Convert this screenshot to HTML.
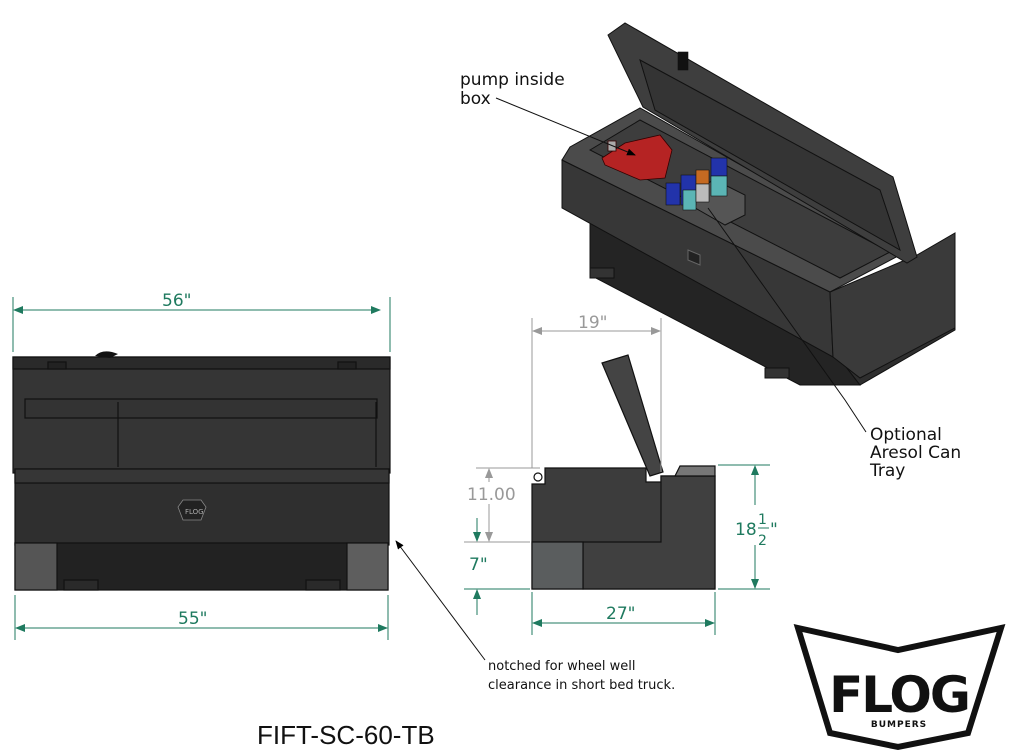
<!DOCTYPE html>
<html><head><meta charset="utf-8"><style>
html,body{margin:0;padding:0;background:#fff;}
svg{display:block;font-family:"DejaVu Sans","Liberation Sans",sans-serif;}
</style></head><body>
<svg width="1010" height="754" viewBox="0 0 1010 754" xmlns="http://www.w3.org/2000/svg">
<defs>
<marker id="ag" markerWidth="10" markerHeight="8" refX="9" refY="4" orient="auto" markerUnits="userSpaceOnUse"><path d="M0,0 L10,4 L0,8 z" fill="#1f7a5f"/></marker>
<marker id="ay" markerWidth="10" markerHeight="8" refX="9" refY="4" orient="auto" markerUnits="userSpaceOnUse"><path d="M0,0 L10,4 L0,8 z" fill="#999"/></marker>
<marker id="ab" markerWidth="9" markerHeight="7" refX="8" refY="3.5" orient="auto" markerUnits="userSpaceOnUse"><path d="M0,0 L9,3.5 L0,7 z" fill="#000"/></marker>
</defs>

<!-- ISO VIEW -->
<g stroke="#111" stroke-width="1">
<polygon points="590,215 833,350 860,385 800,385 590,275" fill="#242424"/>
<polygon points="833,350 955,300 955,330 860,385" fill="#2e2e2e"/>
<polygon points="562,160 830,292 833,357 562,208" fill="#373737"/>
<polygon points="830,292 917,255 955,233 955,328 860,378 833,357" fill="#3a3a3a"/>
<polygon points="562,160 570,147 640,108 900,255 830,292" fill="#4b4b4b"/>
<polygon points="590,150 640,120 890,252 840,278" fill="#3d3d3d"/>
<polygon points="608,35 625,23 893,177 917,257 907,263 643,107" fill="#3e3e3e"/>
<polygon points="640,60 880,190 900,250 655,110" fill="#343434"/>
<polygon points="690,190 715,180 745,195 745,215 725,225 690,205" fill="#555"/>
<rect x="590" y="268" width="24" height="10" fill="#333"/>
<rect x="765" y="368" width="24" height="10" fill="#333"/>
</g>
<g stroke="#300" stroke-width="0.8">
<path d="M602,158 L625,143 L660,135 L672,150 L665,178 L640,180 L605,165 z" fill="#b52323"/>
<rect x="608" y="141" width="8" height="10" fill="#aaa"/>
</g>
<g stroke="#111" stroke-width="0.6">
<rect x="666" y="183" width="14" height="22" fill="#2233aa"/><rect x="681" y="175" width="15" height="30" fill="#2233aa"/><rect x="683" y="190" width="13" height="20" fill="#5bb5b5"/>
<rect x="696" y="170" width="13" height="14" fill="#c56a22"/><rect x="696" y="184" width="13" height="18" fill="#bbb"/>
<rect x="711" y="158" width="16" height="18" fill="#2233aa"/><rect x="711" y="176" width="16" height="20" fill="#5bb5b5"/>
<rect x="678" y="52" width="10" height="18" fill="#111"/>
</g>
<path d="M688,250 l12,5 0,10 -12,-5z" fill="#222" stroke="#666"/>

<!-- labels iso -->
<text x="460" y="85" font-size="17" fill="#111">pump inside</text>
<text x="460" y="104" font-size="17" fill="#111">box</text>
<line x1="496" y1="98" x2="635" y2="155" stroke="#111" stroke-width="1" marker-end="url(#ab)"/>
<polyline points="708,208 845,400 866,432" fill="none" stroke="#111" stroke-width="1"/>
<text x="870" y="440" font-size="17" fill="#111">Optional</text>
<text x="870" y="458" font-size="17" fill="#111">Aresol Can</text>
<text x="870" y="476" font-size="17" fill="#111">Tray</text>

<!-- FRONT VIEW -->
<g stroke="#111" stroke-width="1.2">
<rect x="13" y="357" width="377" height="116" fill="#353535"/>
<rect x="13" y="357" width="377" height="12" fill="#2a2a2a"/>
<rect x="25" y="399" width="352" height="19" fill="#333"/>
<rect x="15" y="469" width="374" height="76" fill="#2f2f2f"/>
<rect x="15" y="469" width="374" height="14" fill="#363636"/>
<rect x="15" y="543" width="373" height="47" fill="#222"/>
<rect x="15" y="543" width="42" height="47" fill="#555"/>
<rect x="347" y="543" width="41" height="47" fill="#5e5e5e"/>
<rect x="64" y="580" width="34" height="10" fill="#2a2a2a"/>
<rect x="306" y="580" width="34" height="10" fill="#2a2a2a"/>
<rect x="48" y="362" width="18" height="7" fill="#222"/>
<rect x="338" y="362" width="18" height="7" fill="#222"/>
<line x1="118" y1="402" x2="118" y2="467"/><line x1="376" y1="402" x2="376" y2="467"/>
</g>
<path d="M95,356 Q103,348 118,354 L110,358 z" fill="#111"/>
<path d="M183,500 h18 l5,7 -5,13 h-18 l-5,-13z" fill="#222" stroke="#888" stroke-width="0.8"/>
<text x="185" y="514" font-size="7" fill="#aaa">FLOG</text>

<!-- front dims -->
<g stroke="#1f7a5f" stroke-width="1">
<line x1="13" y1="297" x2="13" y2="352"/><line x1="390" y1="297" x2="390" y2="352"/>
<line x1="24" y1="310" x2="380" y2="310" marker-end="url(#ag)"/><line x1="380" y1="310" x2="14" y2="310" marker-end="url(#ag)"/>
<line x1="15" y1="595" x2="15" y2="640"/><line x1="388" y1="595" x2="388" y2="640"/>
<line x1="30" y1="628" x2="387" y2="628" marker-end="url(#ag)"/><line x1="370" y1="628" x2="16" y2="628" marker-end="url(#ag)"/>
</g>
<text x="162" y="306" font-size="17" fill="#1f7a5f">56"</text>
<text x="178" y="624" font-size="17" fill="#1f7a5f">55"</text>

<!-- SIDE VIEW -->
<g stroke="#111" stroke-width="1.2">
<polygon points="532,484 545,484 545,468 646,468 646,482 661,482 661,476 715,476 715,589 532,589" fill="#3c3c3c"/>
<polygon points="532,542 661,542 661,476 715,476 715,589 583,589 583,542" fill="#404040"/>
<rect x="532" y="542" width="51" height="47" fill="#5a5d5e"/>
<polygon points="602,363 628,355 663,472 650,476" fill="#444"/>
<polygon points="675,476 680,466 715,466 715,476" fill="#777"/>
<circle cx="538" cy="477" r="4" fill="#fff"/>
</g>
<!-- side dims -->
<g stroke="#999" stroke-width="1">
<line x1="532" y1="318" x2="532" y2="468"/><line x1="661" y1="318" x2="661" y2="472"/>
<line x1="545" y1="331" x2="660" y2="331" marker-end="url(#ay)"/><line x1="650" y1="331" x2="533" y2="331" marker-end="url(#ay)"/>
<line x1="476" y1="468" x2="540" y2="468"/><line x1="464" y1="542" x2="530" y2="542"/>
<line x1="489" y1="505" x2="489" y2="469" marker-end="url(#ay)"/><line x1="489" y1="505" x2="489" y2="541" marker-end="url(#ay)"/>
</g>
<rect x="466" y="482" width="50" height="22" fill="#fff"/>
<text x="467" y="500" font-size="17" fill="#999">11.00</text>
<text x="578" y="328" font-size="17" fill="#999">19"</text>
<g stroke="#1f7a5f" stroke-width="1">
<line x1="464" y1="589" x2="530" y2="589"/>
<line x1="477" y1="518" x2="477" y2="541" marker-end="url(#ag)"/>
<line x1="477" y1="615" x2="477" y2="590" marker-end="url(#ag)"/>
<line x1="718" y1="465" x2="770" y2="465"/><line x1="718" y1="589" x2="770" y2="589"/>
<line x1="755" y1="505" x2="755" y2="466" marker-end="url(#ag)"/>
<line x1="755" y1="545" x2="755" y2="588" marker-end="url(#ag)"/>
<line x1="532" y1="592" x2="532" y2="635"/><line x1="715" y1="592" x2="715" y2="635"/>
<line x1="545" y1="623" x2="714" y2="623" marker-end="url(#ag)"/><line x1="700" y1="623" x2="533" y2="623" marker-end="url(#ag)"/>
<line x1="758" y1="528" x2="769" y2="528"/>
</g>
<text x="469" y="570" font-size="17" fill="#1f7a5f">7"</text>
<text x="606" y="619" font-size="17" fill="#1f7a5f">27"</text>
<text x="735" y="535" font-size="17" fill="#1f7a5f">18</text>
<text x="758" y="524" font-size="14" fill="#1f7a5f">1</text>
<text x="758" y="545" font-size="14" fill="#1f7a5f">2</text>
<text x="770" y="535" font-size="17" fill="#1f7a5f">"</text>

<!-- notch label -->
<line x1="485" y1="660" x2="396" y2="541" stroke="#111" stroke-width="1" marker-end="url(#ab)"/>
<text x="488" y="670" font-size="13" fill="#111">notched for wheel well</text>
<text x="488" y="689" font-size="13" fill="#111">clearance in short bed truck.</text>

<text x="257" y="744" font-size="26" fill="#111" font-family="Liberation Sans, sans-serif">FIFT-SC-60-TB</text>

<!-- LOGO -->
<polygon points="798,628 898,650 1001,628 968,733 898,747 830,733" fill="#fff" stroke="#111" stroke-width="6" stroke-linejoin="miter"/>
<text x="899" y="712" font-size="50" font-weight="bold" text-anchor="middle" fill="#111" font-family="DejaVu Sans, sans-serif" letter-spacing="-2">FLOG</text>
<text x="899" y="727" font-size="9" font-weight="bold" text-anchor="middle" fill="#111" letter-spacing="1">BUMPERS</text>
</svg>
</body></html>
